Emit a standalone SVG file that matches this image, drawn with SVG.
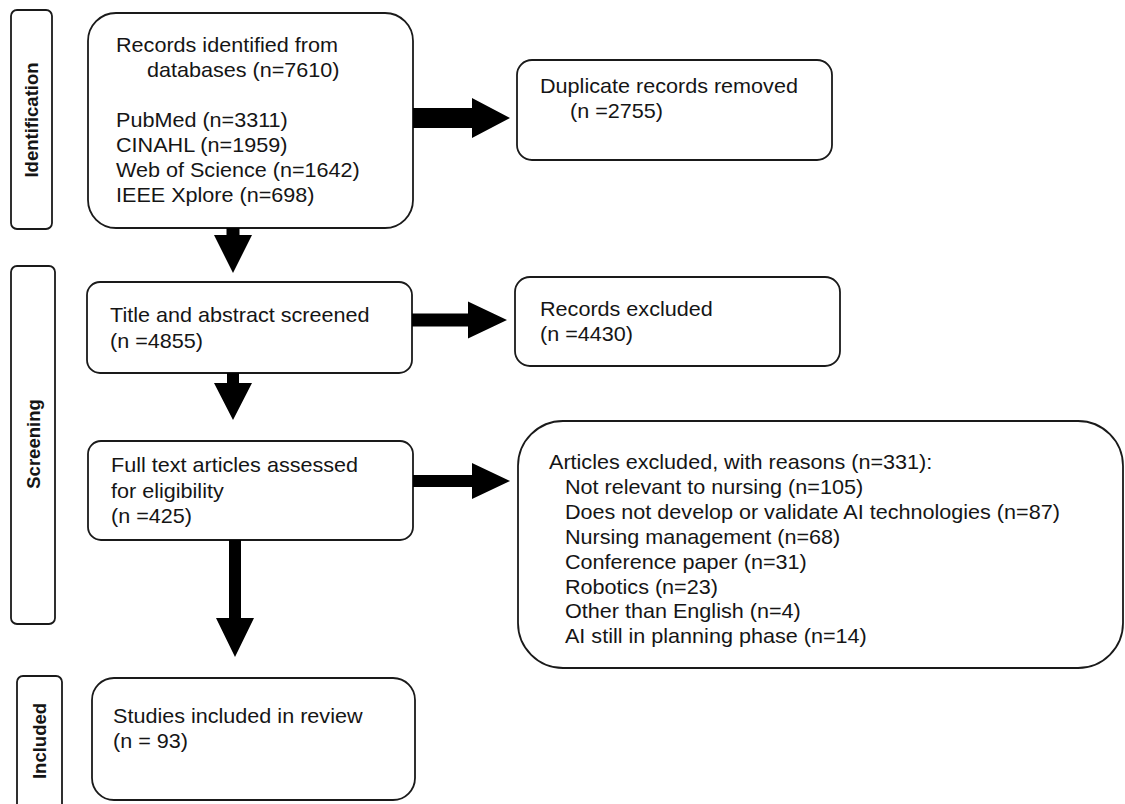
<svg xmlns="http://www.w3.org/2000/svg" width="1125" height="804" viewBox="0 0 1125 804">
<style>
.box{fill:#fff;stroke:#1a1a1a;stroke-width:1.8}
.t{font-family:"Liberation Sans",Arial,sans-serif;font-size:20px;fill:#151515}
.lab{font-family:"Liberation Sans",Arial,sans-serif;font-size:18.5px;font-weight:bold;fill:#151515;text-anchor:middle}
.arr{fill:#000}
</style>
<rect width="1125" height="804" fill="#fff"/>
<g id="phase-identification">
<rect class="box" x="11" y="10" width="41" height="219" rx="6"/>
<text class="lab" transform="translate(38 120) rotate(-90)">Identification</text>
</g>
<g id="phase-screening">
<rect class="box" x="11" y="266" width="44" height="358" rx="6"/>
<text class="lab" transform="translate(39.5 444) rotate(-90)">Screening</text>
</g>
<g id="phase-included">
<rect class="box" x="17" y="676" width="45" height="140" rx="6"/>
<text class="lab" transform="translate(46 741) rotate(-90)">Included</text>
</g>
<g id="records-identified">
<rect class="box" x="88" y="13" width="325" height="215" rx="28"/>
<text class="t" transform="translate(116 0) scale(1.08 1)"><tspan x="0" y="52">Records identified from</tspan><tspan x="28.7" y="77">databases (n=7610)</tspan><tspan x="0" y="127">PubMed (n=3311)</tspan><tspan x="0" y="152">CINAHL (n=1959)</tspan><tspan x="0" y="177">Web of Science (n=1642)</tspan><tspan x="0" y="202">IEEE Xplore (n=698)</tspan></text>
</g>
<g id="duplicates-removed">
<rect class="box" x="517" y="60" width="315" height="100" rx="15"/>
<text class="t" transform="translate(540 0) scale(1.08 1)"><tspan x="0" y="93">Duplicate records removed</tspan><tspan x="27.8" y="118">(n =2755)</tspan></text>
</g>
<g id="title-abstract">
<rect class="box" x="87" y="282" width="325" height="91" rx="13"/>
<text class="t" transform="translate(110 0) scale(1.08 1)"><tspan x="0" y="322">Title and abstract screened</tspan><tspan x="0" y="348">(n =4855)</tspan></text>
</g>
<g id="records-excluded">
<rect class="box" x="515" y="277" width="325" height="89" rx="15"/>
<text class="t" transform="translate(540 0) scale(1.08 1)"><tspan x="0" y="316">Records excluded</tspan><tspan x="0" y="341">(n =4430)</tspan></text>
</g>
<g id="full-text">
<rect class="box" x="88" y="441" width="325" height="99" rx="13"/>
<text class="t" transform="translate(111 0) scale(1.08 1)"><tspan x="0" y="472">Full text articles assessed</tspan><tspan x="0" y="498">for eligibility</tspan><tspan x="0" y="523">(n =425)</tspan></text>
</g>
<g id="articles-excluded">
<rect class="box" x="518" y="421" width="605" height="247" rx="45"/>
<text class="t" transform="translate(549 0) scale(1.08 1)"><tspan x="0" y="469">Articles excluded, with reasons (n=331):</tspan><tspan x="14.8" y="494">Not relevant to nursing (n=105)</tspan><tspan x="14.8" y="519">Does not develop or validate AI technologies (n=87)</tspan><tspan x="14.8" y="544">Nursing management (n=68)</tspan><tspan x="14.8" y="569">Conference paper (n=31)</tspan><tspan x="14.8" y="594">Robotics (n=23)</tspan><tspan x="14.8" y="618">Other than English (n=4)</tspan><tspan x="14.8" y="643">AI still in planning phase (n=14)</tspan></text>
</g>
<g id="studies-included">
<rect class="box" x="92" y="678" width="323" height="122" rx="22"/>
<text class="t" transform="translate(113 0) scale(1.08 1)"><tspan x="0" y="723">Studies included in review</tspan><tspan x="0" y="748">(n = 93)</tspan></text>
</g>
<g id="connectors">
<polygon class="arr" points="413,108 472,108 472,98 510,118 472,138 472,128 413,128"/>
<polygon class="arr" points="226.5,228 239.5,228 239.5,235 252,235 233,273 214,235 226.5,235"/>
<polygon class="arr" points="412,313.5 468,313.5 468,301.5 507,320 468,338.5 468,326.5 412,326.5"/>
<polygon class="arr" points="227,373 239,373 239,383 252,383 233,420 214,383 227,383"/>
<polygon class="arr" points="413,475 472,475 472,463 510,481 472,499 472,487 413,487"/>
<polygon class="arr" points="229,540 241,540 241,618 254,618 235,657 216,618 229,618"/>
</g>
</svg>
